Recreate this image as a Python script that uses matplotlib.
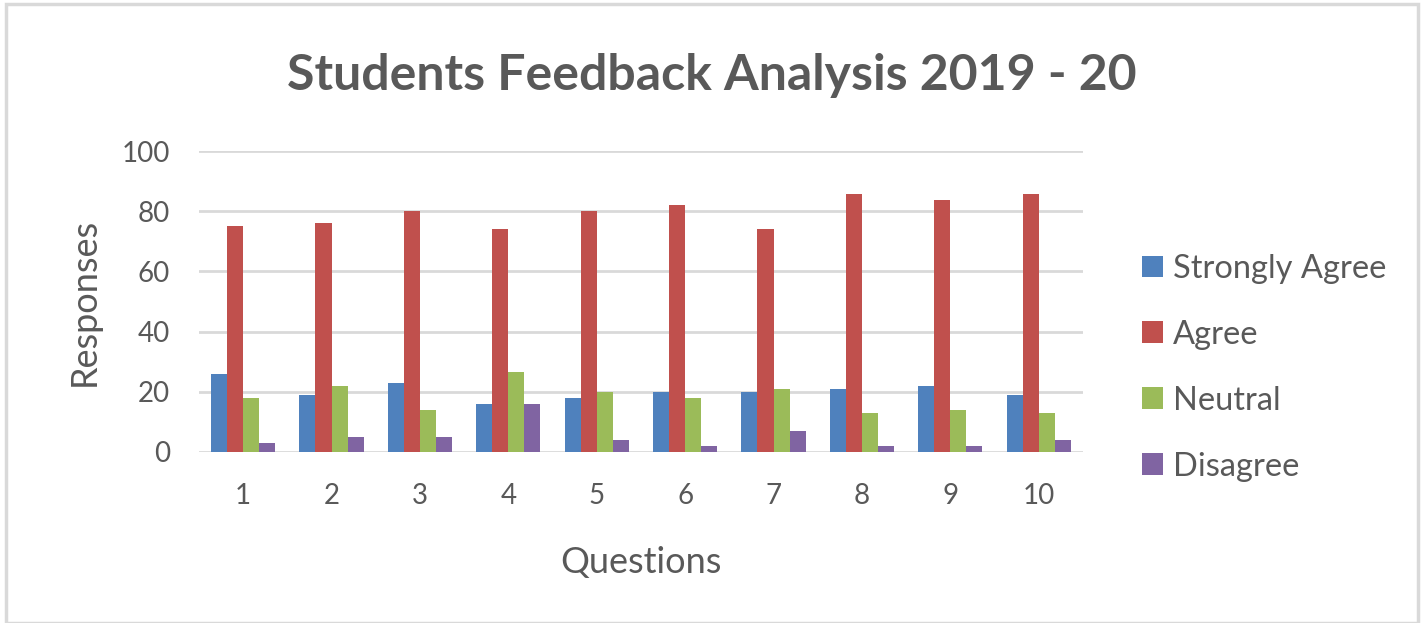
import numpy as np
import matplotlib
matplotlib.use('Agg')
import matplotlib.pyplot as plt
from matplotlib.patches import Rectangle

plt.rcParams['font.family'] = ['Lato', 'DejaVu Sans']

questions = ['1', '2', '3', '4', '5', '6', '7', '8', '9', '10']
strongly_agree = [26, 19, 23, 16, 18, 20, 20, 21, 22, 19]
agree = [75, 76, 80, 74, 80, 82, 74, 85.6, 83.6, 85.6]
neutral = [18, 22, 14, 26.6, 20, 18, 21, 13, 14, 13]
disagree = [3, 5, 5, 16, 4, 2, 7, 2, 2, 4]

series = [('Strongly Agree', strongly_agree, '#4F81BD'),
          ('Agree', agree, '#C0504D'),
          ('Neutral', neutral, '#9BBB59'),
          ('Disagree', disagree, '#8064A2')]

txt = '#595959'
grid = '#D9D9D9'

fig = plt.figure(figsize=(14.24, 6.23), dpi=100)
fig.patches.append(Rectangle((0.004, 0.0), 0.992, 0.994, transform=fig.transFigure,
                             fill=False, edgecolor=grid, linewidth=2.5))
ax = fig.add_axes([0.1397, 0.2745, 0.6208, 0.4831])

x = np.arange(len(questions))
w = 1 / 5.5  # excel gap width 150%
for i, (name, vals, col) in enumerate(series):
    ax.bar(x + (i - 1.5) * w, vals, width=w, color=col, label=name, zorder=3)

ax.set_xlim(-0.5, len(questions) - 0.5)
ax.set_ylim(0, 100)
ax.set_yticks(range(0, 101, 20))
ax.set_xticks(x)
ax.set_xticklabels(questions)
ax.grid(axis='y', color=grid, linewidth=2, zorder=0)
ax.set_axisbelow(True)
for s in ax.spines.values():
    s.set_visible(False)
ax.tick_params(axis='both', length=0, labelsize=20, labelcolor=txt)
ax.tick_params(axis='y', pad=21)
ax.tick_params(axis='x', pad=22)

ax.set_xlabel('Questions', fontsize=26, color=txt, labelpad=27)
ax.set_ylabel('Responses', fontsize=26, color=txt, labelpad=15)

fig.text(0.5, 0.879, 'Students Feedback Analysis 2019 - 20', ha='center', va='center',
         fontsize=36, fontweight='bold', color=txt)

leg = ax.legend(loc='center left', bbox_to_anchor=(1.052, 0.28), frameon=False,
                fontsize=23.5, labelspacing=1.1, handlelength=0.65, handleheight=0.65,
                handletextpad=0.3, borderaxespad=0)
for t in leg.get_texts():
    t.set_color(txt)

fig.savefig('out.png', dpi=100)
